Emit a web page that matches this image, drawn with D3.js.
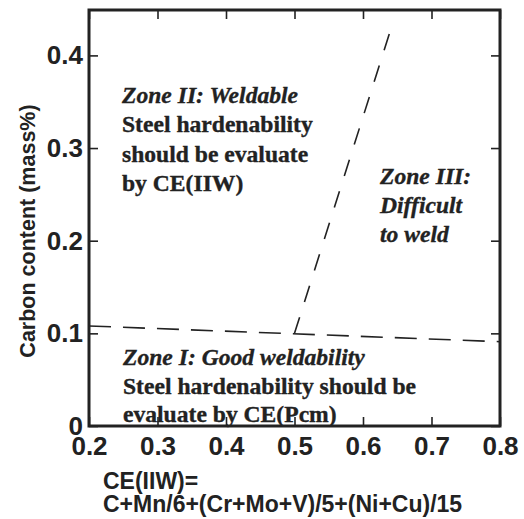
<!DOCTYPE html>
<html>
<head>
<meta charset="utf-8">
<script src="https://cdn.jsdelivr.net/npm/d3@7"></script>
<style>
  body { margin: 0; background: #fff; }
</style>
</head>
<body>
<div id="chart"></div>
<script>
// axis ticks
var xTicks = [0.2, 0.3, 0.4, 0.5, 0.6, 0.7, 0.8];
var yTicks = [0, 0.1, 0.2, 0.3, 0.4];
var xTickLabels = ["0.2", "0.3", "0.4", "0.5", "0.6", "0.7", "0.8"];
var yTickLabels = ["0", "0.1", "0.2", "0.3", "0.4"];

// boundary lines [CE(IIW), carbon]
var lowerBoundaryCE = [0.2, 0.8];
var lowerBoundaryC = [0.108, 0.091];
var steepBoundaryCE = [0.5, 0.64];
var steepBoundaryC = [0.1, 0.427];

var zone2Lines = ["Zone II: Weldable", "Steel hardenability", "should be evaluate", "by CE(IIW)"];
var zone3Lines = ["Zone III:", "Difficult", "to weld"];
var zone1Lines = ["Zone I: Good weldability", "Steel hardenability should be", "evaluate by CE(Pcm)"];

var W = 524, H = 519;
var margin = { top: 10, right: 24, bottom: 93, left: 89 };
var width = W - margin.left - margin.right,
    height = H - margin.top - margin.bottom;

var svg = d3.select("#chart").append("svg")
    .attr("width", W)
    .attr("height", H)
    .append("g")
    .attr("transform", "translate(" + margin.left + "," + margin.top + ")");

var x = d3.scaleLinear().domain([0.2, 0.8]).range([0, width]);
var y = d3.scaleLinear().domain([0, 0.449]).range([height, 0]);

var sans = "'Liberation Sans', Arial, Helvetica, sans-serif";
var serif = "'Liberation Serif', 'Times New Roman', Times, serif";

// bottom axis with labels
var xAxis = svg.append("g")
    .attr("transform", "translate(0," + height + ")")
    .call(d3.axisBottom(x).tickValues(xTicks)
        .tickFormat(function (d, i) { return xTickLabels[i]; })
        .tickSize(-9).tickPadding(11));
// top axis ticks only
var xTop = svg.append("g")
    .call(d3.axisTop(x).tickValues(xTicks).tickFormat("").tickSize(-9));

var yAxis = svg.append("g")
    .call(d3.axisLeft(y).tickValues(yTicks)
        .tickFormat(function (d, i) { return yTickLabels[i]; })
        .tickSize(-9).tickPadding(6));
var yRight = svg.append("g")
    .attr("transform", "translate(" + width + ",0)")
    .call(d3.axisRight(y).tickValues(yTicks).tickFormat("").tickSize(-9));

[xAxis, xTop, yAxis, yRight].forEach(function (g) {
    g.select(".domain").remove();
    g.selectAll(".tick line").attr("stroke", "#222").attr("stroke-width", 1.6);
    g.selectAll("text")
        .attr("fill", "#222")
        .style("font-family", sans)
        .style("font-weight", "bold")
        .style("font-size", "26px");
});

// frame
svg.append("rect")
    .attr("x", 0).attr("y", 0)
    .attr("width", width).attr("height", height)
    .attr("fill", "none")
    .attr("stroke", "#222")
    .attr("stroke-width", 3);

var line = d3.line()
    .x(function (d) { return x(d[0]); })
    .y(function (d) { return y(d[1]); });

svg.append("path")
    .datum(d3.zip(lowerBoundaryCE, lowerBoundaryC))
    .attr("d", line)
    .attr("fill", "none")
    .attr("stroke", "#222")
    .attr("stroke-width", 1.6)
    .attr("stroke-dasharray", "22,12");

svg.append("path")
    .datum(d3.zip(steepBoundaryCE, steepBoundaryC))
    .attr("d", line)
    .attr("fill", "none")
    .attr("stroke", "#222")
    .attr("stroke-width", 1.6)
    .attr("stroke-dasharray", "17,16");

// zone annotations
function zoneText(lines, px, py, lineH, italicRows) {
    var t = svg.append("text")
        .attr("fill", "#222")
        .attr("stroke", "#222")
        .attr("stroke-width", 0.35)
        .style("font-family", serif)
        .style("font-weight", "bold")
        .style("font-size", "23.6px");
    lines.forEach(function (s, i) {
        t.append("tspan")
            .attr("x", px)
            .attr("y", py + i * lineH)
            .style("font-style", italicRows.indexOf(i) >= 0 ? "italic" : "normal")
            .text(s);
    });
}
zoneText(zone2Lines, 33, 93, 29.3, [0]);
zoneText(zone3Lines, 291, 174, 29, [0, 1, 2]);
zoneText(zone1Lines, 34, 355, 28.5, [0]);

// y axis title
svg.append("text")
    .attr("transform", "translate(-54," + (231 - margin.top) + ") rotate(-90)")
    .attr("text-anchor", "middle")
    .attr("fill", "#222")
    .style("font-family", sans)
    .style("font-weight", "bold")
    .style("font-size", "21.5px")
    .text("Carbon content (mass%)");

// x axis title
var xt = svg.append("text")
    .attr("fill", "#222")
    .style("font-family", sans)
    .style("font-weight", "bold")
    .style("font-size", "23px");
xt.append("tspan").attr("x", 14).attr("y", 479).text("CE(IIW)=");
xt.append("tspan").attr("x", 14).attr("y", 502).text("C+Mn/6+(Cr+Mo+V)/5+(Ni+Cu)/15");
</script>
</body>
</html>
